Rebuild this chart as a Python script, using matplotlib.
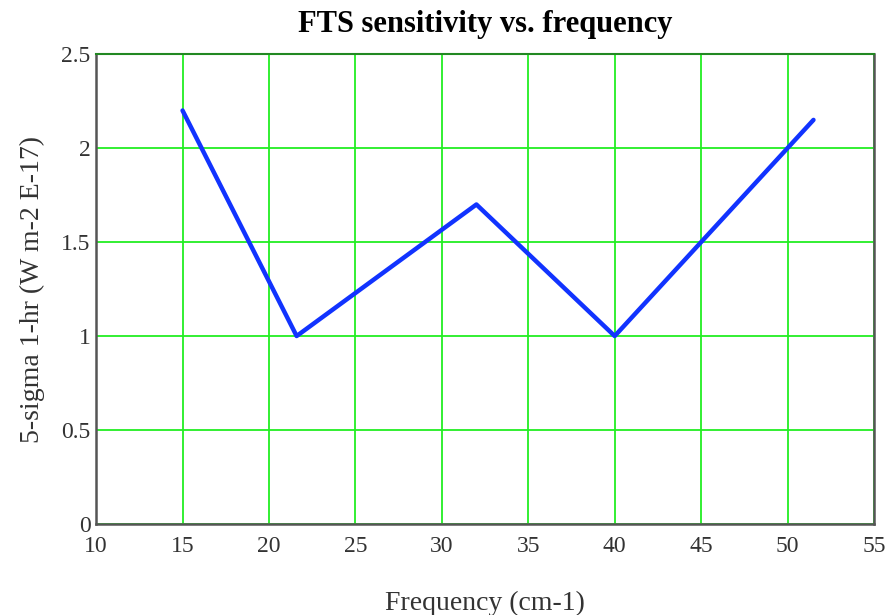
import matplotlib
matplotlib.use("Agg")
import matplotlib.pyplot as plt

# values
freq = [15, 21.6, 32, 40, 51.5]
sens = [2.2, 1.0, 1.7, 1.0, 2.15]
xticks = [10, 15, 20, 25, 30, 35, 40, 45, 50, 55]
yticks = [0, 0.5, 1, 1.5, 2, 2.5]
ytick_labels = ["0", "0.5", "1", "1.5", "2", "2.5"]

plt.rcParams['font.family'] = ['Liberation Serif', 'DejaVu Serif']

fig = plt.figure(figsize=(8.9, 6.15), dpi=100)
ax = fig.add_axes([0.108, 0.148, 0.874, 0.764])

ax.plot(freq, sens, color='#1133ff', linewidth=3.2, solid_capstyle='round', zorder=3)

ax.set_xlim(10, 55)
ax.set_ylim(0, 2.5)
ax.set_xticks(xticks)
ax.set_yticks(yticks)
ax.set_yticklabels(ytick_labels)
ax.grid(True, color='#22ee22', linewidth=1.3)
ax.tick_params(length=0, labelsize=17, labelcolor='#333333')
ax.tick_params(axis='x', pad=9)
ax.tick_params(axis='y', pad=4)

for side in ['left', 'bottom', 'right']:
    ax.spines[side].set_color('#555555')
    ax.spines[side].set_linewidth(1.8)
ax.spines['top'].set_color('#228822')
ax.spines['top'].set_linewidth(1.5)

ax.set_title('FTS sensitivity vs. frequency', fontsize=22, fontweight='bold', pad=16)
ax.set_xlabel('Frequency (cm-1)', fontsize=20, color='#333333', labelpad=24)
ax.set_ylabel('5-sigma 1-hr (W m-2 E-17)', fontsize=20, color='#333333', labelpad=12)

fig.savefig('out.png', dpi=100)
